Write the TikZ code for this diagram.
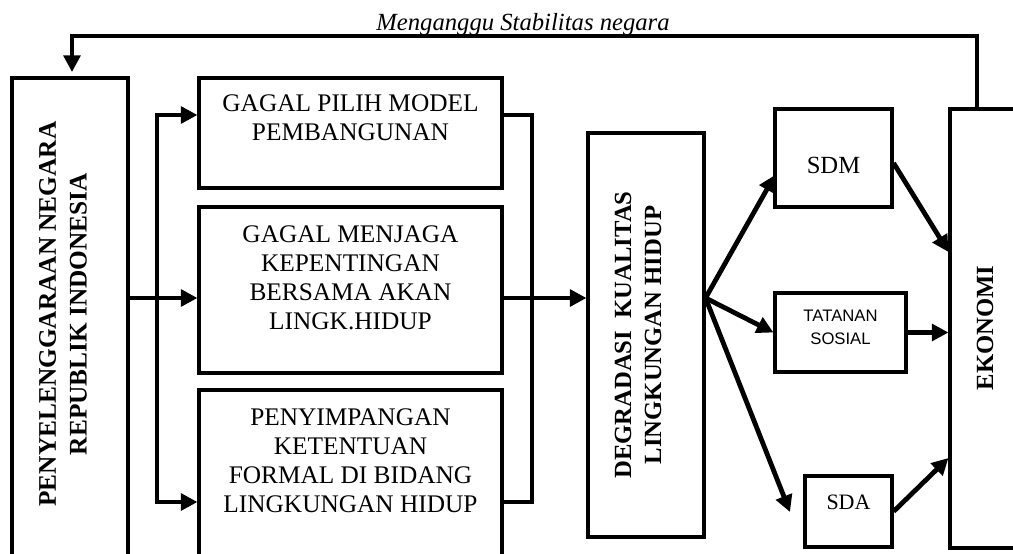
\documentclass[tikz,border=0pt]{standalone}
\usepackage{fontspec}
\setmainfont{Liberation Serif}
\newfontfamily\arialf{Liberation Sans}
\usetikzlibrary{arrows.meta,calc}
\begin{document}
\begin{tikzpicture}[x=0.75pt,y=-0.75pt,
  box/.style={draw, line width=2.3pt, rectangle, inner sep=0pt},
  conn/.style={line width=3.6pt},
  tip/.tip={Triangle[length=12.5pt,width=12.5pt]},
  arr/.style={conn, -tip},
  txt/.style={font=\fontsize{19}{21.75}\selectfont, align=center, inner sep=0pt, anchor=north},
  btxt/.style={font=\bfseries\fontsize{19}{23}\selectfont, align=center, inner sep=0pt, rotate=90}]
\useasboundingbox (0,0) rectangle (1013,553);
\clip (0,0) rectangle (1013,553);
% boxes
\node[box, minimum width=87pt, minimum height=406.5pt] (L) at (70,349) {};
\node[box, minimum width=227.25pt, minimum height=82.5pt] (B1) at (350.5,133) {};
\node[box, minimum width=227.25pt, minimum height=124.5pt] (B2) at (350.5,290) {};
\node[box, minimum width=227.25pt, minimum height=172.5pt] (B3) at (350.5,505) {};
\node[box, minimum width=87pt, minimum height=303pt] (D) at (646,335) {};
\node[box, minimum width=87.75pt, minimum height=73.5pt] (SDM) at (833.5,158) {};
\node[box, minimum width=98.25pt, minimum height=59.25pt] (TS) at (840.5,332.5) {};
\node[box, minimum width=65.25pt, minimum height=53.25pt] (SDA) at (848.5,511.5) {};
\node[box, minimum width=82.5pt, minimum height=329.25pt] (E) at (1005,328.5) {};
% texts
\node[btxt] (Lt) at (63,314) {PENYELENGGARAAN NEGARA\\REPUBLIK INDONESIA};
\node[txt] (B1t) at (350.5,94) {GAGAL PILIH MODEL\\PEMBANGUNAN};
\node[txt] (B2t) at (350.5,225) {GAGAL MENJAGA\\KEPENTINGAN\\BERSAMA AKAN\\LINGK.HIDUP};
\node[txt] (B3t) at (350.5,408) {PENYIMPANGAN\\KETENTUAN\\FORMAL DI BIDANG\\LINGKUNGAN HIDUP};
\node[btxt, font=\bfseries\fontsize{18.5}{22.5}\selectfont] (Dt) at (638,335) {DEGRADASI\ \ KUALITAS\\LINGKUNGAN HIDUP};
\node[inner sep=0pt, font=\fontsize{18.5}{20}\selectfont] (SDMt) at (833.5,165) {SDM};
\node[inner sep=0pt, align=center, font=\arialf\fontsize{12.5}{17}\selectfont] (TSt) at (840.5,327.5) {TATANAN\\SOSIAL};
\node[inner sep=0pt, font=\fontsize{16.5}{18}\selectfont] (SDAt) at (848.5,502) {SDA};
\node[btxt, font=\bfseries\fontsize{18.5}{22}\selectfont] (Et) at (985,328) {EKONOMI};
\node[inner sep=0pt, anchor=base, font=\itshape\fontsize{18.5}{20}\selectfont] (lab) at (523,30) {Menganggu Stabilitas negara};
% coordinates
\coordinate (mid) at (0,298);
\coordinate (lt) at (157,115);
\coordinate (lb) at (157,502);
\coordinate (rt) at (532,115);
\coordinate (rb) at (532,502);
\coordinate (sdmtip) at (775,175);
\coordinate (sdatip) at (790,512);
\coordinate (ein1) at (950,252);
\coordinate (ein3) at (950,458);
\coordinate (fbx) at (977,36);
\coordinate (fbl) at (72,36);
\coordinate (fbtip) at (72,72);
% connectors
\draw[conn, tip-tip] (B1.west |- lt) -- (lt) -- (lb) -- (B3.west |- lb);
\draw[arr] (L.east |- mid) -- (B2.west |- mid);
\draw[conn] (B1.east |- rt) -- (rt) -- (rb) -- (B3.east |- rb);
\draw[arr] (B2.east |- mid) -- (D.west |- mid);
\coordinate (o) at (D.east |- mid);
\draw[arr] (o) -- (sdmtip);
\draw[arr] (o) -- (TS.west);
\draw[arr] (o) -- (sdatip);
\draw[arr] ($(SDM.east)+(0,5)$) -- (E.west |- ein1);
\draw[arr] (TS.east) -- (E.west |- TS.east);
\draw[arr] (SDA.east) -- (E.west |- ein3);
\draw[arr, line width=3pt] (E.north -| fbx) -- (fbx) -- (fbl) -- (fbtip);
\end{tikzpicture}
\end{document}
